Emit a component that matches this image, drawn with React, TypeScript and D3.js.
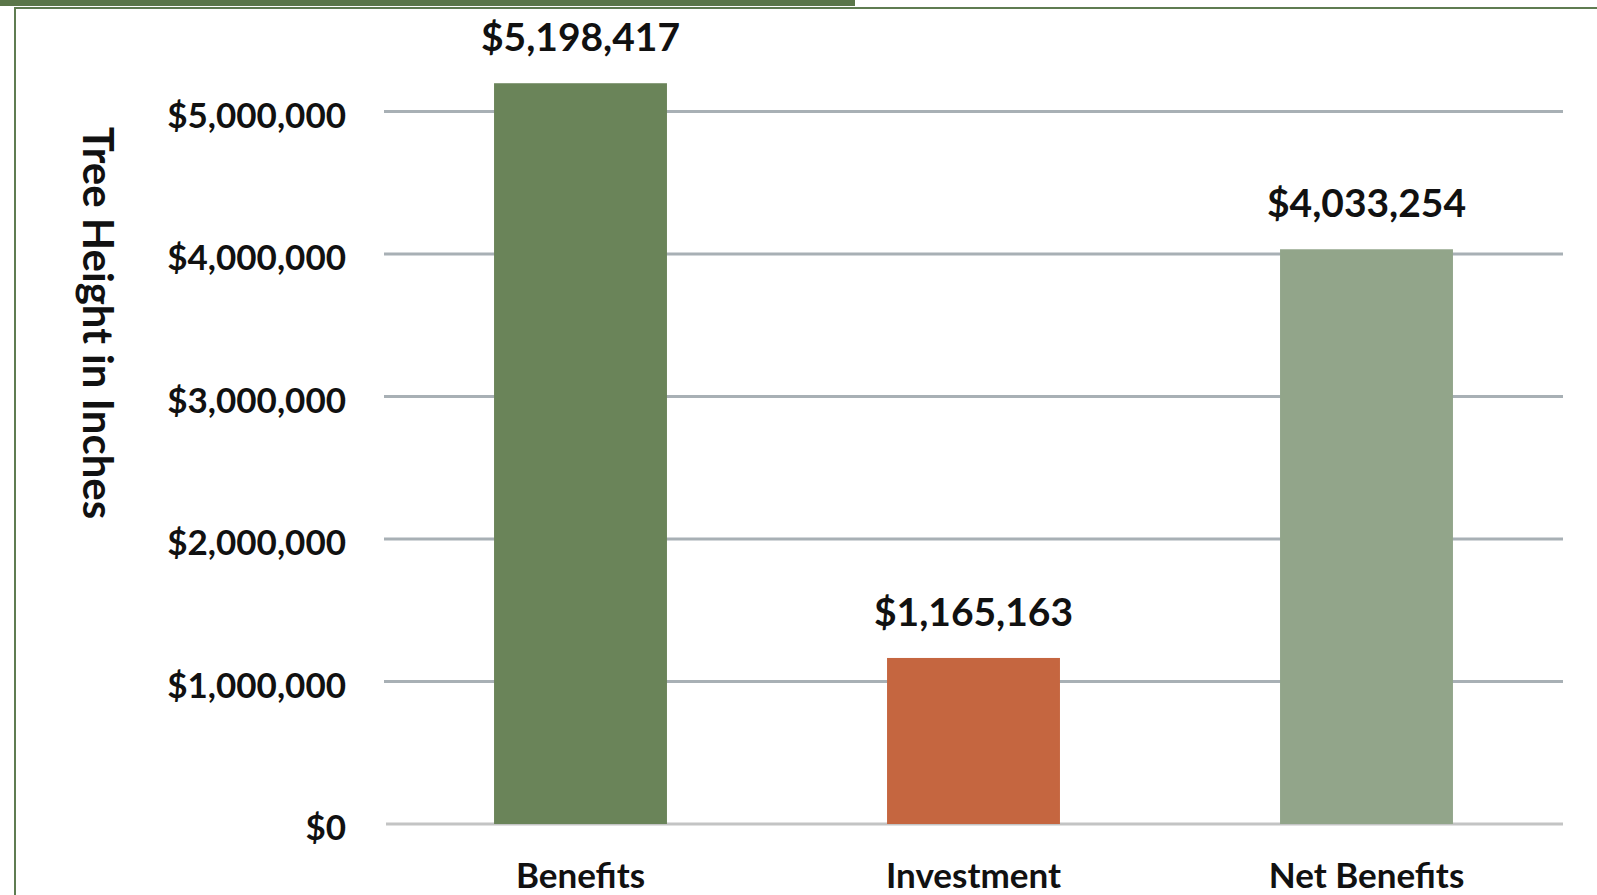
import * as d3 from "d3";
import React, { useEffect, useRef } from "react";

// chart data
const categories = ["Benefits", "Investment", "Net Benefits"];
const values = [5198417, 1165163, 4033254];
const barColors = ["#6a8459", "#c56640", "#92a58a"];
const yTicks = [0, 1000000, 2000000, 3000000, 4000000, 5000000];
const yTitle = "Tree Height in Inches";

const width = 1597;
const height = 895;
const font = "Lato, 'Open Sans', sans-serif";

const App: React.FC = () => {
  const ref = useRef<SVGSVGElement | null>(null);

  useEffect(() => {
    if (!ref.current) return;
    const svg = d3.select(ref.current);
    svg.selectAll("*").remove();

    const border = "#5f7c51";
    // frame: heavy top strip, thin top line and left rule
    svg.append("rect").attr("x", 0).attr("y", 0).attr("width", 855).attr("height", 6).attr("fill", "#5a7649");
    svg.append("rect").attr("x", 14).attr("y", 7).attr("width", width - 14).attr("height", 2).attr("fill", border);
    svg.append("rect").attr("x", 14).attr("y", 7).attr("width", 2).attr("height", height).attr("fill", border);

    // scales
    const x = d3
      .scaleBand()
      .domain(categories)
      .range([384, 1563])
      .paddingInner(0.56)
      .paddingOuter(0.28);

    const y = d3.scaleLinear().domain([0, 5000000]).range([824, 111.5]);

    const money = d3.format("$,.0f");

    // gridlines + tick labels
    const yAxis = svg.append("g");
    yAxis
      .selectAll("line")
      .data(yTicks)
      .enter()
      .append("line")
      .attr("x1", (d) => (d === 0 ? 386 : 384))
      .attr("x2", 1563)
      .attr("y1", (d) => y(d))
      .attr("y2", (d) => y(d))
      .attr("stroke", (d) => (d === 0 ? "#c3c4c4" : "#a8b0b5"))
      .attr("stroke-width", 3);

    yAxis
      .selectAll("text")
      .data(yTicks)
      .enter()
      .append("text")
      .attr("x", 346)
      .attr("y", (d) => y(d) + 16)
      .attr("text-anchor", "end")
      .style("font-family", font)
      .style("font-weight", 700)
      .style("font-size", "35px")
      .attr("fill", "#111")
      .text((d) => money(d));

    // bars
    svg
      .append("g")
      .selectAll("rect")
      .data(values)
      .enter()
      .append("rect")
      .attr("x", (_d, i) => x(categories[i])!)
      .attr("y", (d) => y(d))
      .attr("width", x.bandwidth())
      .attr("height", (d) => y(0) - y(d))
      .attr("fill", (_d, i) => barColors[i]);

    // value labels
    svg
      .append("g")
      .selectAll("text")
      .data(values)
      .enter()
      .append("text")
      .attr("x", (_d, i) => x(categories[i])! + x.bandwidth() / 2)
      .attr("y", (d) => y(d) - 32)
      .attr("text-anchor", "middle")
      .style("font-family", font)
      .style("font-weight", 700)
      .style("font-size", "39px")
      .attr("fill", "#111")
      .text((d) => money(d));

    // category labels
    svg
      .append("g")
      .selectAll("text")
      .data(categories)
      .enter()
      .append("text")
      .attr("x", (d) => x(d)! + x.bandwidth() / 2)
      .attr("y", 888)
      .attr("text-anchor", "middle")
      .style("font-family", font)
      .style("font-weight", 700)
      .style("font-size", "35px")
      .attr("fill", "#111")
      .text((d) => d);

    // y title, rotated to read top to bottom
    svg
      .append("text")
      .attr("transform", "translate(99,323) rotate(90)")
      .attr("text-anchor", "middle")
      .attr("dominant-baseline", "central")
      .style("font-family", font)
      .style("font-weight", 700)
      .style("font-size", "42px")
      .attr("fill", "#111")
      .text(yTitle);
  }, []);

  return (
    <svg
      ref={ref}
      width={width}
      height={height}
      style={{ position: "absolute", left: 0, top: 0, background: "#fff" }}
    ></svg>
  );
};

export default App;
